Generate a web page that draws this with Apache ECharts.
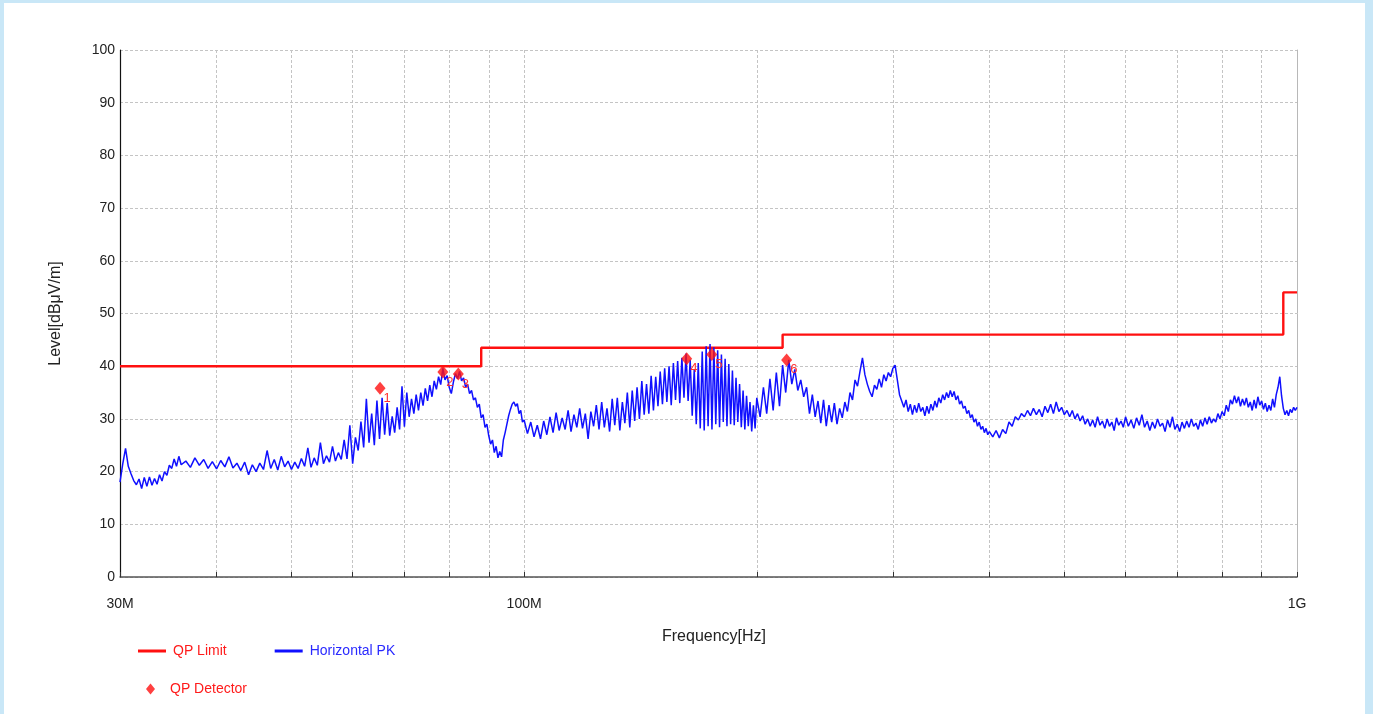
<!DOCTYPE html>
<html>
<head>
<meta charset="utf-8">
<title>Radiated Emission - Horizontal</title>
<script src="https://cdn.jsdelivr.net/npm/echarts@6/dist/echarts.min.js"></script>
<style>
  html, body { margin: 0; padding: 0; width: 1373px; height: 714px; overflow: hidden; background: #c9e7f7; }
  #panel { position: absolute; left: 4px; top: 3px; width: 1361px; height: 730px; background: #ffffff; }
  #chart { position: absolute; left: 0; top: 0; width: 1373px; height: 714px; }
</style>
</head>
<body>
<div id="panel"></div>
<div id="chart"></div>
<script>
// Frequencies in MHz, levels in dBµV/m
const limitSteps = [[30, 40], [88, 43.5], [216, 46], [960, 54], [1000, 54]];

const qpIds = ['1', '2', '3', '4', '5', '6'];
const qpFreq = [65.1, 78.5, 82.2, 162.3, 174.9, 218.6];
const qpLevel = [35.8, 38.9, 38.5, 41.4, 42.2, 41.2];

const yTicks = [0, 100, 10]; // min, max, interval
const xGridFreq = [30, 40, 50, 60, 70, 80, 90, 100, 200, 300, 400, 500, 600, 700, 800, 900, 1000];
const xLabelFreq = [30, 100, 1000];
const xLabelText = ['30M', '100M', '1G'];

// Horizontal peak sweep [MHz, dBµV/m]
const peakTrace = [
  [30,18.0],[30.25,21.5],[30.5,24.4],[30.75,21.0],[31,19.6],[31.25,18.3],[31.5,17.5],[31.75,18.6],[32,16.8],[32.25,18.9],
  [32.5,17.2],[32.75,19.0],[33,17.4],[33.25,18.7],[33.5,17.6],[33.75,19.4],[34,18.2],[34.25,20.0],[34.5,19.3],[34.75,21.2],
  [35,20.6],[35.25,22.4],[35.5,21.0],[35.75,22.9],[36,21.3],
  [36.5,22.0],[37,20.8],[37.5,22.6],[38,21.2],[38.5,22.3],[39,20.6],[39.5,21.9],[40,20.5],[40.5,22.1],[41,20.9],
  [41.5,22.8],[42,20.7],[42.5,21.6],[43,20.2],[43.5,21.8],[44,19.4],[44.5,21.3],[45,20.0],[45.5,21.6],[46,20.4],
  [46.5,24.0],[47,20.6],[47.5,22.3],[48,20.3],[48.5,22.9],[49,20.9],[49.5,22.0],[50,20.4],[50.5,21.8],[51,20.6],
  [51.5,22.5],[52,21.0],[52.5,24.5],[53,20.8],[53.5,22.6],[54,21.2],[54.5,25.5],[55,21.5],[55.5,23.0],[56,21.8],
  [56.5,24.8],[57,22.0],[57.5,23.6],[58,22.3],
  [58.5,26.0],[59,22.4],[59.5,28.8],[60,21.5],[60.5,26.5],[61,24.0],[61.5,29.5],[62,24.6],[62.5,33.8],[63,25.5],
  [63.5,31.0],[64,25.0],[64.5,33.5],[65,26.2],[65.5,34.0],[66,27.0],[66.5,33.0],[67,26.8],[67.5,30.5],[68,27.4],
  [68.5,32.2],[69,28.0],[69.5,36.2],[70,28.5],[70.5,35.0],[71,30.4],[71.5,33.8],[72,31.0],[72.5,34.6],[73,31.6],
  [73.5,35.0],[74,32.5],[74.5,35.8],[75,33.4],[75.5,36.4],[76,34.2],[76.5,37.2],[77,35.6],[77.5,38.0],[78,36.5],
  [78.5,39.6],[79,37.4],[79.5,38.2],[80,36.0],[80.5,34.8],[81,37.0],[81.5,38.6],[82,37.6],[82.5,39.0],[83,37.2],
  [83.5,37.8],[84,36.0],[84.5,36.6],[85,34.8],[85.5,35.4],[86,33.6],[86.5,34.0],[87,32.2],[87.5,32.8],[88,30.2],
  [88.5,30.8],[89,28.4],[89.5,29.0],[90,26.8],
  [90.5,25.2],[91,26.0],[91.5,23.6],[92,24.8],[92.5,22.6],[93,23.8],[93.5,22.8],[94,26.0],[94.5,27.4],[95,29.0],
  [95.5,30.6],[96,31.8],[96.5,32.8],[97,33.2],[97.5,32.4],[98,32.9],[98.5,31.0],[99,31.6],[99.5,29.4],[100,29.8],
  [101,27.2],[102,29.4],[103,26.6],[104,28.8],[105,26.2],[106,29.6],[107,27.0],[108,30.4],[109,27.4],[110,31.2],
  [111,27.8],[112,30.2],[113,28.0],[114,31.6],[115,27.6],[116,30.8],[117,28.4],[118,32.0],[119,28.2],[120,31.0],
  [121,26.2],[122,31.4],[123,28.6],[124,32.6],[125,28.0],[126,33.2],[127,28.4],[128,32.0],[129,27.6],[130,33.8],
  [131,28.8],[132,34.0],[133,27.8],[134,33.2],[135,29.2],[136,35.0],[137,28.4],[138,35.4],[139,29.6],[140,36.0],
  [141,30.0],[142,37.2],[143,30.8],[144,36.6],[145,31.0],[146,38.2],[147,31.6],[148,38.0],[149,32.4],[150,39.0],
  [151,32.8],[152,39.6],[153,33.2],[154,40.0],[155,32.6],[156,40.6],[157,33.6],[158,41.0],[159,33.0],[160,41.6],
  [161,34.0],[162,42.4],[163,33.4],[164,41.2],[165,30.6],[166,39.4],[167,29.0],[168,40.6],[169,28.2],[170,42.8],
  [171,27.8],[172,43.8],[173,28.6],[174,44.2],[175,28.0],[176,43.6],[177,29.0],[178,43.0],[179,28.4],[180,42.2],
  [181,29.4],[182,41.4],[183,28.6],[184,40.4],[185,29.0],[186,39.2],[187,28.8],[188,37.8],[189,29.4],[190,36.6],
  [191,28.4],[192,35.4],[193,28.0],[194,34.4],[195,28.6],[196,33.2],[197,27.6],[198,32.6],[199,28.2],[200,34.0],
  [202,30.4],[204,36.0],[206,31.0],[208,37.6],[210,31.6],[212,38.8],[214,32.4],[216,40.2],[218,35.0],[220,41.2],
  [222,36.6],[224,39.4],[226,35.4],[228,37.4],[230,34.2],[232,36.0],[234,31.0],[236,34.6],[238,30.4],[240,33.4],
  [242,29.2],[244,33.6],[246,28.6],[248,32.6],[250,29.4],[252,33.0],[254,29.0],[256,32.0],[258,30.2],[260,33.2],
  [262,31.4],[264,35.0],[266,33.6],[268,37.4],[270,36.2],[272,39.0],[274,41.6],[276,38.4],[278,36.6],[280,35.2],
  [282,34.2],[284,36.4],[286,35.6],[288,37.6],[290,36.0],[292,38.4],[294,37.2],[296,38.8],[298,38.0],[300,39.6],
  [302,40.2],[304,37.4],[306,34.6],[308,33.4],[310,32.2],[312,33.6],[314,31.4],[316,32.8],[318,30.8],[320,32.6],
  [322,31.2],[324,33.0],[326,31.4],[328,32.2],[330,30.6],[332,32.4],[334,31.0],[336,32.8],[338,31.6],[340,33.4],
  [342,32.2],[344,34.0],[346,33.0],[348,34.6],[350,33.6],[352,35.0],[354,34.0],[356,35.4],[358,34.2],[360,35.2],
  [362,33.6],[364,34.4],[366,32.8],[368,33.4],[370,32.0],[372,32.4],[374,31.0],[376,31.6],[378,30.2],[380,30.8],
  [382,29.4],[384,30.0],[386,28.6],[388,29.4],[390,28.0],[392,28.6],[394,27.4],[396,28.2],[398,27.0],[400,27.6],
  [404,26.6],[408,27.8],[412,26.4],[416,28.0],[420,27.2],[424,29.4],[428,28.6],[432,30.4],[436,29.8],[440,31.0],
  [444,30.4],[448,31.6],[452,30.6],[456,32.0],[460,30.8],[464,31.8],[468,30.4],[472,32.4],[476,31.2],[480,32.8],
  [484,31.0],[488,33.2],[492,31.4],[496,32.2],[500,30.8],[504,31.6],[508,30.4],[512,31.6],[516,30.0],[520,31.0],
  [524,29.6],[528,30.6],[532,29.0],[536,30.0],[540,28.6],[544,29.8],[548,28.4],[552,30.4],[556,28.8],[560,29.6],
  [564,28.2],[568,30.0],[572,28.6],[576,29.4],[580,27.8],[584,30.2],[588,28.8],[592,29.6],[596,28.4],[600,30.4],
  [605,28.6],[610,29.8],[615,28.2],[620,30.2],[625,28.8],[630,30.8],[635,28.4],[640,29.6],[645,27.8],[650,29.4],
  [655,28.2],[660,30.0],[665,28.6],[670,29.2],[675,27.6],[680,29.8],[685,28.4],[690,30.4],[695,28.0],[700,29.0],
  [705,27.6],[710,29.4],[715,28.2],[720,29.6],[725,28.4],[730,30.0],[735,28.6],[740,29.2],[745,28.0],[750,29.8],
  [755,28.6],[760,30.2],[765,29.0],[770,30.4],[775,29.2],[780,30.0],[785,29.4],[790,31.0],[795,30.0],[800,31.4],
  [805,30.6],[810,32.6],[815,31.4],[820,33.6],[825,32.8],[830,34.4],[835,33.0],[840,34.2],[845,32.4],[850,33.8],
  [855,32.6],[860,34.0],[865,32.2],[870,33.2],[875,31.6],[880,33.6],[885,32.0],[890,34.2],[895,32.6],[900,33.4],
  [905,31.8],[910,33.0],[915,31.4],[920,32.6],[925,31.6],[930,33.8],[935,32.2],[940,34.6],[945,36.0],[950,38.0],
  [955,34.4],[960,32.0],[965,30.8],[970,31.6],[975,30.6],[980,31.8],[985,31.2],[990,32.2],[995,31.6],[1000,32.2]
];

// The frequency axis is drawn as a linear axis over log10(MHz)
const lg = f => Math.log10(f);
const toLog = pts => pts.map(([f, v]) => [lg(f), v]);

const FONT = '"Liberation Sans", Arial, sans-serif';
const chart = echarts.init(document.getElementById('chart'), null, { renderer: 'canvas' });

chart.setOption({
  animation: false,
  backgroundColor: 'transparent',
  textStyle: { fontFamily: FONT },
  grid: { left: 120, right: 76, top: 50, bottom: 137, containLabel: false },
  legend: [
    {
      left: 133, top: 639, orient: 'horizontal', itemGap: 48,
      itemWidth: 28, itemHeight: 3, selectedMode: false,
      textStyle: { fontSize: 14, fontFamily: FONT, padding: [0, 0, 0, 2] },
      data: [
        { name: 'QP Limit', icon: 'rect', textStyle: { color: '#ff1a1a' } },
        { name: 'Horizontal PK', icon: 'rect', textStyle: { color: '#2a2aff' } }
      ]
    },
    {
      left: 141, top: 677, itemWidth: 9, itemHeight: 11, selectedMode: false,
      textStyle: { fontSize: 14, fontFamily: FONT, padding: [0, 0, 0, 10] },
      data: [{ name: 'QP Detector', icon: 'diamond', textStyle: { color: '#ff1a1a' } }]
    }
  ],
  xAxis: {
    type: 'value',
    min: lg(xGridFreq[0]),
    max: lg(xGridFreq[xGridFreq.length - 1]),
    name: 'Frequency[Hz]',
    nameLocation: 'middle',
    nameGap: 52,
    nameTextStyle: { fontSize: 16, color: '#222', fontFamily: FONT, padding: [0, 0, 0, 11] },
    axisLine: { show: true, onZero: false, lineStyle: { color: '#555', width: 1.5 } },
    axisTick: { show: true, inside: true, length: 5, customValues: xGridFreq.map(lg), lineStyle: { color: '#333' } },
    axisLabel: {
      show: true, margin: 20, fontSize: 14, color: '#222', fontFamily: FONT,
      customValues: xLabelFreq.map(lg),
      formatter: v => {
        const i = xLabelFreq.findIndex(f => Math.abs(lg(f) - v) < 1e-6);
        return i >= 0 ? xLabelText[i] : '';
      }
    },
    splitLine: { show: true, lineStyle: { color: '#c4c4c4', type: [3, 2], width: 1 } }
  },
  yAxis: [
    {
      type: 'value',
      min: yTicks[0], max: yTicks[1], interval: yTicks[2],
      name: 'Level[dBμV/m]',
      nameLocation: 'middle',
      nameGap: 56,
      nameTextStyle: { fontSize: 16, color: '#222', fontFamily: FONT },
      axisLine: { show: true, lineStyle: { color: '#111', width: 1.2 } },
      axisTick: { show: false },
      axisLabel: { margin: 5, fontSize: 14, color: '#222', fontFamily: FONT },
      splitLine: { show: true, lineStyle: { color: '#c4c4c4', type: [3, 2], width: 1 } }
    },
    {
      type: 'value', position: 'right',
      min: yTicks[0], max: yTicks[1], interval: yTicks[2],
      axisLine: { show: true, lineStyle: { color: '#b8b8b8', width: 1 } },
      axisTick: { show: false }, axisLabel: { show: false }, splitLine: { show: false }
    }
  ],
  series: [
    {
      name: 'QP Limit',
      type: 'line',
      step: 'end',
      data: toLog(limitSteps),
      showSymbol: false,
      color: '#ff1010',
      lineStyle: { color: '#ff1010', width: 2.4 },
      z: 3
    },
    {
      name: 'Horizontal PK',
      type: 'line',
      data: toLog(peakTrace),
      showSymbol: false,
      color: '#1010ff',
      lineStyle: { color: '#1010ff', width: 1.5 },
      z: 4
    },
    {
      name: 'QP Detector',
      type: 'scatter',
      data: qpFreq.map((f, i) => [lg(f), qpLevel[i]]),
      symbol: 'diamond',
      symbolSize: [11, 13],
      color: '#ff1010',
      itemStyle: { color: '#ff1010' },
      labelLayout: { hideOverlap: false },
      label: {
        show: true, position: [9, 10],
        fontSize: 13, color: '#ff3030', fontFamily: FONT,
        opacity: 1, textBorderWidth: 0, textBorderColor: 'transparent',
        textShadowBlur: 0, textShadowColor: 'transparent',
        formatter: p => qpIds[p.dataIndex]
      },
      z: 6
    }
  ]
});
</script>
</body>
</html>
